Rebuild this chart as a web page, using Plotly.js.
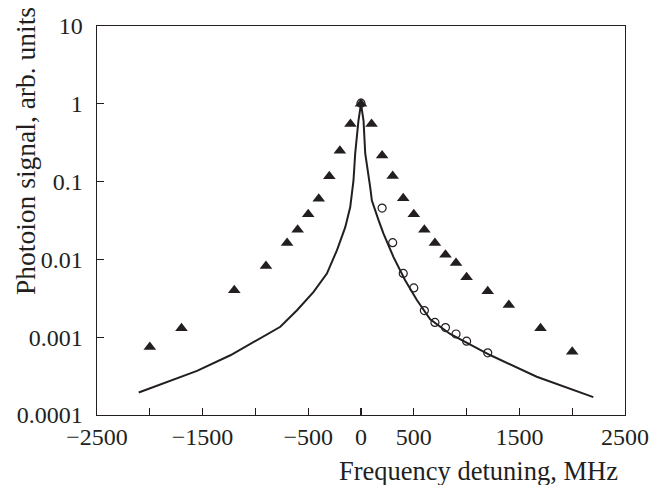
<!DOCTYPE html>
<html>
<head>
<meta charset="utf-8">
<script src="https://cdn.plot.ly/plotly-3.0.1.min.js"></script>
<style>html,body{margin:0;padding:0;background:#fff;}#chart{width:651px;height:485px;}</style>
</head>
<body>
<div id="chart"></div>
<script>
// Triangles (filled)
const triX = [-2000, -1700, -1200, -900, -700, -600, -500, -400, -300, -200, -100, 0, 100, 200, 300, 400, 500, 600, 700, 800, 900, 1000, 1200, 1400, 1700, 2000];
const triY = [0.00075, 0.0013, 0.0040, 0.0082, 0.0162, 0.024, 0.038, 0.060, 0.117, 0.25, 0.55, 1.0, 0.55, 0.217, 0.118, 0.061, 0.038, 0.024, 0.0162, 0.0115, 0.009, 0.0059, 0.0039, 0.0026, 0.0013, 0.00065];
// Circles (open)
const circX = [0, 200, 300, 400, 500, 600, 700, 800, 900, 1000, 1200];
const circY = [1.02, 0.0457, 0.0164, 0.0066, 0.0043, 0.0022, 0.00155, 0.00133, 0.0011, 0.00089, 0.00063];
// Solid curve
const lineX = [-2105, -1868, -1553, -1237, -922, -764, -606, -449, -323, -228, -149, -102, -71, -55, -24, 0, 24, 40, 87, 103, 166, 213, 308, 418, 529, 655, 844, 1222, 1664, 2200];
const lineY = [0.000195, 0.000255, 0.000369, 0.000586, 0.00101, 0.00136, 0.00222, 0.00382, 0.00657, 0.0131, 0.026, 0.047, 0.1035, 0.23, 0.61, 1.0, 0.61, 0.23, 0.085, 0.057, 0.032, 0.0214, 0.0107, 0.0054, 0.003, 0.0017, 0.0011, 0.00059, 0.00031, 0.00017];
// Ticks
const xTickVals = [-2500, -2000, -1500, -1000, -500, 0, 500, 1000, 1500, 2000, 2500];
const xTickText = ['\u22122500', '', '\u22121500', '', '\u2212500', '0', '500', '', '1500', '', '2500'];
const yTickVals = [0.0001, 0.001, 0.01, 0.1, 1, 10];
const yTickText = ['0.0001', '0.001', '0.01', '0.1', '1', '10'];

const ink = '#231f20';
const traces = [
  {x: lineX, y: lineY, mode: 'lines', line: {color: ink, width: 2}, hoverinfo: 'skip'},
  {x: triX, y: triY, mode: 'markers', marker: {symbol: 'triangle-up', size: 11, color: ink}},
  {x: circX, y: circY, mode: 'markers', marker: {symbol: 'circle-open', size: 8, color: ink, line: {width: 1.2, color: ink}}}
];
const fam = '"Liberation Serif", "Times New Roman", serif';
const tickFont = {family: fam, size: 24, color: ink};
const titleFont = {family: fam, size: 26.5, color: ink};
const yTitleFont = {family: fam, size: 27.5, color: ink};
const layout = {
  width: 651, height: 485,
  margin: {l: 97, r: 26, t: 26, b: 70},
  paper_bgcolor: '#fff', plot_bgcolor: '#fff',
  showlegend: false,
  font: tickFont,
  xaxis: {
    range: [-2500, 2500], tickmode: 'array', tickvals: xTickVals, ticktext: xTickText,
    ticks: 'inside', ticklen: 7, tickwidth: 1.3, tickcolor: ink,
    showline: true, linecolor: ink, linewidth: 1.4, mirror: true,
    showgrid: false, zeroline: false, tickfont: tickFont
  },
  yaxis: {
    type: 'log', range: [-4, 1], tickmode: 'array', tickvals: yTickVals, ticktext: yTickText,
    ticks: 'inside', ticklen: 7, tickwidth: 1.3, tickcolor: ink,
    showline: true, linecolor: ink, linewidth: 1.4, mirror: true,
    showgrid: false, zeroline: false, tickfont: tickFont, ticklabelstandoff: 8
  },
  annotations: [
    {text: 'Frequency detuning, MHz', xref: 'paper', yref: 'paper', x: 0.9905, y: -0.144, xanchor: 'right', yanchor: 'middle', showarrow: false, font: titleFont},
    {text: 'Photoion signal, arb. units', xref: 'paper', yref: 'paper', x: -0.1345, y: 0.6787, xanchor: 'center', yanchor: 'middle', textangle: -90, showarrow: false, font: yTitleFont}
  ]
};
Plotly.newPlot('chart', traces, layout, {displayModeBar: false, staticPlot: true});
</script>
</body>
</html>
